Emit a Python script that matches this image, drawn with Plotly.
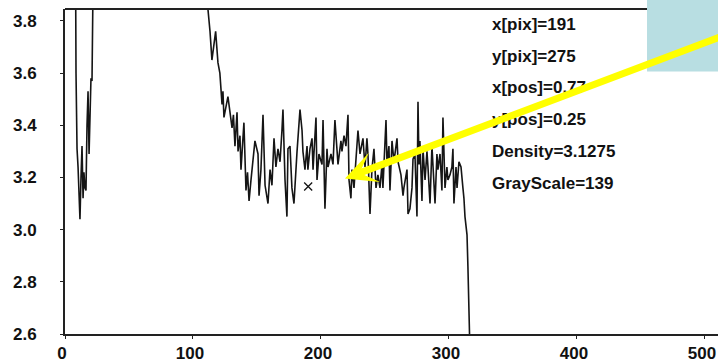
import plotly.graph_objects as go

# ---- data ----
trace_x = [0, 8.0, 8.6, 9.4, 10.2, 10.9, 11.7, 12.5, 13.3, 14.1, 14.8, 15.6, 16.4, 17.2, 18.0, 18.8, 19.5, 20.3, 21.1, 21.9, 22.7,
           60, 110, 111.4, 113.3, 114.8, 116.0, 117.7, 119.5, 121.0, 122.7, 123.4, 124.2, 125.8, 127.3, 128.9, 130.5, 131.6,
           132.8, 134.4, 135.2, 136.7, 137.5, 139.8, 141.4, 142.6, 143.8, 145.3, 146.9, 148.4, 150.8, 151.6, 153.1, 154.7,
           156.3, 158.6, 160.2, 161.7, 163.3, 164.8, 166.4, 168.0, 169.5, 170.3, 171.9, 173.4, 174.2, 175.8, 177.3, 178.9,
           181.3, 182.0, 183.6, 185.2, 185.9, 187.5, 189.1, 189.8, 191.4, 193.0, 193.8, 196.1, 196.9, 198.4, 200.8, 201.6,
           203.1, 204.7, 205.5, 207.8, 209.4, 210.9, 212.5, 213.3, 215.6, 216.4, 218.0, 219.5, 221.1, 221.9, 223.4, 224.2,
           225.8, 228.1, 228.9, 230.5, 232.8, 234.4, 235.9, 236.7, 238.3, 239.8, 241.4, 243.0, 244.5, 246.1, 247.7, 248.4,
           250.8, 251.6, 253.1, 253.9, 255.5, 257.0, 259.4, 260.2, 262.5, 264.1, 264.8, 267.2, 268.0, 269.5, 271.1, 271.9,
           273.4, 275.0, 275.8, 276.6, 277.3, 278.9, 279.7, 281.3, 282.8, 283.6, 285.2, 286.7, 287.5, 289.1, 290.6, 291.4,
           293.0, 294.5, 295.3, 296.9, 298.4, 299.2, 300.8, 302.3, 303.1, 303.9, 305.5, 306.3, 307.8, 309.4, 310.9, 311.7,
           312.5, 314.1, 314.8, 315.6, 316.4, 318.0, 330]
trace_y = [4.30, 4.30, 3.60, 3.31, 3.24, 3.15, 3.04, 3.20, 3.32, 3.12, 3.22, 3.16, 3.15, 3.40, 3.53, 3.29, 3.40, 3.58, 3.57, 3.76, 4.30,
           4.30, 4.30, 3.86, 3.76, 3.65, 3.70, 3.76, 3.64, 3.60, 3.48, 3.53, 3.43, 3.47, 3.51, 3.45, 3.39, 3.44,
           3.32, 3.45, 3.30, 3.36, 3.23, 3.41, 3.15, 3.22, 3.11, 3.19, 3.28, 3.34, 3.29, 3.13, 3.23, 3.44,
           3.17, 3.10, 3.23, 3.17, 3.35, 3.24, 3.31, 3.26, 3.38, 3.46, 3.19, 3.05, 3.31, 3.32, 3.16, 3.10,
           3.30, 3.36, 3.46, 3.38, 3.30, 3.23, 3.32, 3.23, 3.31, 3.35, 3.23, 3.43, 3.19, 3.29, 3.25, 3.42,
           3.08, 3.31, 3.24, 3.29, 3.25, 3.42, 3.31, 3.25, 3.34, 3.30, 3.36, 3.32, 3.44, 3.19, 3.12, 3.23,
           3.16, 3.32, 3.38, 3.29, 3.35, 3.24, 3.35, 3.29, 3.06, 3.23, 3.31, 3.16, 3.21, 3.16, 3.25, 3.16,
           3.42, 3.25, 3.32, 3.15, 3.34, 3.26, 3.35, 3.26, 3.21, 3.13, 3.16, 3.23, 3.06, 3.08, 3.16, 3.27,
           3.29, 3.05, 3.49, 3.25, 3.34, 3.11, 3.31, 3.19, 3.30, 3.24, 3.10, 3.32, 3.26, 3.10, 3.29, 3.23,
           3.29, 3.15, 3.43, 3.16, 3.24, 3.19, 3.21, 3.24, 3.31, 3.10, 3.24, 3.16, 3.26, 3.24, 3.16, 3.12,
           3.05, 2.98, 2.86, 2.70, 2.55, 2.20, 2.20]

cursor_x = [190]
cursor_y = [3.165]

x_ticks = [0, 100, 200, 300, 400, 500]
y_ticks = [2.6, 2.8, 3.0, 3.2, 3.4, 3.6, 3.8]
y_tick_text = ["2.6", "2.8", "3.0", "3.2", "3.4", "3.6", "3.8"]

info_lines = ["x[pix]=191", "y[pix]=275", "x[pos]=0.77", "y[pos]=0.25", "Density=3.1275", "GrayScale=139"]

arrow_tip = (218.75, 3.196)
arrow_tail = (520, 3.754)

FONT = "Liberation Sans, Arial, DejaVu Sans, sans-serif"

fig = go.Figure()
fig.add_trace(go.Scatter(x=trace_x, y=trace_y, mode="lines",
                         line=dict(color="#151515", width=1.6), hoverinfo="skip"))
fig.add_trace(go.Scatter(x=cursor_x, y=cursor_y, mode="markers",
                         marker=dict(symbol="x-thin-open", size=8, color="#111",
                                     line=dict(color="#111", width=1.3)),
                         hoverinfo="skip"))

fig.update_layout(
    width=718, height=363,
    margin=dict(l=65, r=0, t=9, b=26),
    paper_bgcolor="white", plot_bgcolor="white",
    showlegend=False,
    xaxis=dict(range=[0, 510.2], tickvals=x_ticks, showline=True, linecolor="#222", linewidth=2,
               ticks="outside", ticklen=3, tickcolor="#222", showgrid=False, zeroline=False,
               tickfont=dict(family=FONT, size=17, color="#111", weight="bold"), ticklabelshift=-3),
    yaxis=dict(range=[2.6, 3.8456], tickvals=y_ticks, ticktext=y_tick_text, showline=True, linecolor="#222",
               linewidth=2, ticks="outside", ticklen=3, tickcolor="#222", showgrid=False, zeroline=False,
               tickfont=dict(family=FONT, size=17, color="#111", weight="bold"), ticklabelstandoff=20),
)

# top border
fig.add_shape(type="line", xref="paper", yref="paper", x0=0, x1=1, y0=1, y1=1,
              line=dict(color="#222", width=2))
# light blue box top-right
fig.add_shape(type="rect", xref="paper", yref="paper", x0=0.8913, x1=1.02, y0=0.808, y1=1.04,
              fillcolor="#B8DEE2", line=dict(width=0), layer="above")

info_y = [0.953, 0.855, 0.757, 0.659, 0.561, 0.463]
for txt, yy in zip(info_lines, info_y):
    fig.add_annotation(text=txt, xref="paper", yref="paper", x=0.6508, y=yy, xanchor="left", yanchor="middle",
                       showarrow=False, font=dict(family=FONT, size=17, color="#111", weight="bold"))

fig.add_annotation(x=arrow_tip[0], y=arrow_tip[1], ax=arrow_tail[0], ay=arrow_tail[1],
                   xref="x", yref="y", axref="x", ayref="y", text="", showarrow=True,
                   arrowhead=3, arrowsize=0.75, arrowwidth=7, arrowcolor="#FFFF00", standoff=0)

fig.write_html("out.html", config={"displayModeBar": False},
               post_script="document.body.style.margin='0';")
